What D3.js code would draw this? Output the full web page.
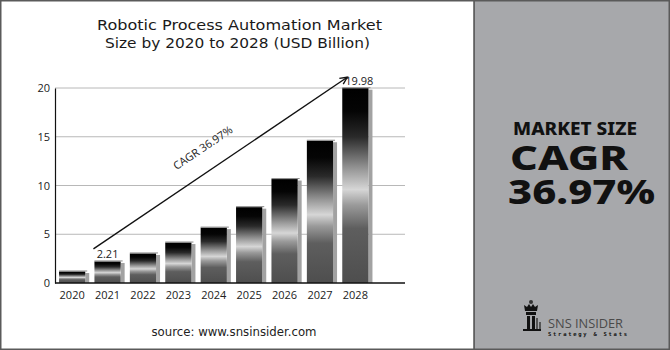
<!DOCTYPE html>
<html>
<head>
<meta charset="utf-8">
<script src="https://cdn.jsdelivr.net/npm/d3@7/dist/d3.min.js"></script>
<style>
  html, body { margin: 0; padding: 0; background: #fff; }
  svg { display: block; }
</style>
</head>
<body>
<svg id="chart" width="670" height="350"></svg>
<script>
// Robotic Process Automation market size, USD billion
const years = ["2020", "2021", "2022", "2023", "2024", "2025", "2026", "2027", "2028"];
const marketSize = [1.18, 2.21, 3.03, 4.15, 5.68, 7.78, 10.66, 14.59, 19.98];
const yTicks = [0, 5, 10, 15, 20];
const valueLabels = { "2021": "2.21", "2028": "19.98" };
const titleLines = ["Robotic Process Automation Market", "Size by 2020 to 2028 (USD Billion)"];
const cagrText = "CAGR 36.97%";

const svg = d3.select("#chart");
const W = 670, H = 350;
const panelX = 474;

// Background panels
svg.append("rect").attr("x", 0).attr("y", 0).attr("width", W).attr("height", H).attr("fill", "#fff");
svg.append("rect").attr("x", panelX).attr("y", 0).attr("width", W - panelX).attr("height", H).attr("fill", "#a7a8ab");
svg.append("line").attr("x1", panelX).attr("x2", panelX).attr("y1", 0).attr("y2", H)
  .attr("stroke", "#3a3a3a").attr("stroke-width", 1.3);
svg.append("rect").attr("x", 0.75).attr("y", 0.75).attr("width", W - 1.5).attr("height", H - 1.5)
  .attr("fill", "none").attr("stroke", "#5a5a5a").attr("stroke-width", 1.5);

// Title
const titleFont = "'DejaVu Sans', 'Noto Sans', sans-serif";
const titleWidths = [285, 265];
svg.append("g").selectAll("text").data(titleLines).join("text")
  .attr("x", (d, i) => i === 0 ? 239.5 : 237.5).attr("y", (d, i) => 30 + i * 17.5)
  .attr("text-anchor", "middle")
  .attr("font-family", titleFont).attr("font-size", 14.5).attr("fill", "#1a1a1a")
  .attr("textLength", (d, i) => titleWidths[i]).attr("lengthAdjust", "spacingAndGlyphs")
  .text(d => d);

// Scales
const x = d3.scaleBand().domain(years).range([55.5, 372]).paddingInner(0.26).paddingOuter(0.1);
const y = d3.scaleLinear().domain([0, 20]).range([283, 88]);
const plotLeft = 55, plotRight = 405;

// Gridlines
svg.append("g").selectAll("line").data(yTicks.filter(d => d > 0)).join("line")
  .attr("x1", plotLeft).attr("x2", plotRight)
  .attr("y1", d => y(d)).attr("y2", d => y(d))
  .attr("stroke", "#b8b8b8").attr("stroke-width", 1);

// Y axis
const yAxis = svg.append("g").attr("transform", `translate(${plotLeft},0)`)
  .call(d3.axisLeft(y).tickValues(yTicks).tickSize(0).tickPadding(5));
yAxis.select(".domain").attr("stroke", "#111").attr("stroke-width", 1.2);
yAxis.selectAll("text").attr("font-family", "'Open Sans', sans-serif").attr("font-size", 11).attr("fill", "#222");

// Metallic bar gradient
const defs = svg.append("defs");
const grad = defs.append("linearGradient").attr("id", "barGrad")
  .attr("x1", 0).attr("y1", 0).attr("x2", 0).attr("y2", 1);
[
  [0, "#000"], [0.12, "#050505"], [0.25, "#2a2a2a"], [0.42, "#9a9a9a"],
  [0.52, "#d6d6d6"], [0.60, "#9a9a9a"], [0.72, "#5e5e5e"], [1, "#4e4e4e"]
].forEach(([o, c]) => grad.append("stop").attr("offset", o).attr("stop-color", c));

const bars = svg.append("g");
const rows = years.map((yr, i) => ({ year: yr, value: marketSize[i] }));

// Side shading of each bar
bars.selectAll("rect.side").data(rows).join("rect").attr("class", "side")
  .attr("x", d => x(d.year) + x.bandwidth())
  .attr("y", d => y(d.value) + 1.5)
  .attr("width", 4)
  .attr("height", d => y(0) - y(d.value) - 1.5)
  .attr("fill", "#a2a2a2");

// Bar faces
bars.selectAll("rect.face").data(rows).join("rect").attr("class", "face")
  .attr("x", d => x(d.year))
  .attr("y", d => y(d.value))
  .attr("width", x.bandwidth())
  .attr("height", d => y(0) - y(d.value))
  .attr("fill", "url(#barGrad)");

// Top edge highlight
bars.selectAll("line.top").data(rows).join("line").attr("class", "top")
  .attr("x1", d => x(d.year)).attr("x2", d => x(d.year) + x.bandwidth() + 2)
  .attr("y1", d => y(d.value) - 0.5).attr("y2", d => y(d.value) - 0.5)
  .attr("stroke", "#8a8a8a").attr("stroke-width", 1);

// X axis baseline and labels
svg.append("line").attr("x1", plotLeft).attr("x2", plotRight).attr("y1", y(0)).attr("y2", y(0))
  .attr("stroke", "#111").attr("stroke-width", 1.4);
const xAxis = svg.append("g").attr("transform", `translate(0,${y(0)})`)
  .call(d3.axisBottom(x).tickSize(0).tickPadding(8));
xAxis.select(".domain").remove();
xAxis.selectAll("text").attr("font-family", "'Open Sans', sans-serif").attr("font-size", 11).attr("fill", "#222");

// Value labels
svg.append("g").selectAll("text").data(rows.filter(d => valueLabels[d.year])).join("text")
  .attr("x", d => x(d.year) + x.bandwidth() / 2 + (d.year === "2028" ? 4 : 0))
  .attr("y", d => y(d.value) - 3)
  .attr("text-anchor", "middle")
  .attr("font-family", "'Open Sans', sans-serif").attr("font-size", 11).attr("fill", "#222")
  .text(d => valueLabels[d.year]);

// CAGR trend arrow
const ax1 = x("2021") - 1, ay1 = y(3.5);
const ax2 = x("2028") + 5, ay2 = y(21.1);
svg.append("line").attr("x1", ax1).attr("y1", ay1).attr("x2", ax2).attr("y2", ay2)
  .attr("stroke", "#111").attr("stroke-width", 1.4);
const ang = Math.atan2(ay2 - ay1, ax2 - ax1);
const head = 8, spread = 0.45;
svg.append("path")
  .attr("d", `M${ax2 - head * Math.cos(ang - spread)},${ay2 - head * Math.sin(ang - spread)} L${ax2},${ay2} L${ax2 - head * Math.cos(ang + spread)},${ay2 - head * Math.sin(ang + spread)}`)
  .attr("fill", "none").attr("stroke", "#111").attr("stroke-width", 1.4);

const angDeg = ang * 180 / Math.PI;
svg.append("text")
  .attr("transform", `translate(205,151) rotate(${angDeg})`)
  .attr("text-anchor", "middle")
  .attr("font-family", "'Open Sans', sans-serif").attr("font-size", 11).attr("fill", "#222")
  .text(cagrText);

// Source
svg.append("text").attr("x", 234).attr("y", 336).attr("text-anchor", "middle")
  .attr("font-family", titleFont).attr("font-size", 12).attr("fill", "#222")
  .attr("textLength", 165).attr("lengthAdjust", "spacingAndGlyphs")
  .text("source: www.snsinsider.com");

// Right panel headline
const bold = "'Noto Sans', 'Open Sans', sans-serif";
svg.append("text").attr("x", 513).attr("y", 135)
  .attr("font-family", bold).attr("font-weight", 800).attr("font-size", 17)
  .attr("textLength", 124).attr("lengthAdjust", "spacingAndGlyphs")
  .attr("fill", "#111").text("MARKET SIZE");
svg.append("text").attr("x", 510).attr("y", 170)
  .attr("font-family", bold).attr("font-weight", 800).attr("font-size", 34)
  .attr("textLength", 118).attr("lengthAdjust", "spacingAndGlyphs")
  .attr("fill", "#111").text("CAGR");
svg.append("text").attr("x", 508).attr("y", 204)
  .attr("font-family", bold).attr("font-weight", 800).attr("font-size", 34)
  .attr("textLength", 147).attr("lengthAdjust", "spacingAndGlyphs")
  .attr("fill", "#111").text("36.97%");

// Logo
const logo = svg.append("g").attr("transform", "translate(523,300)");
logo.append("circle").attr("cx", 8).attr("cy", 2).attr("r", 2).attr("fill", "#333");
logo.append("path")
  .attr("d", "M1,5 L4,7 L6,4 L8,7 L10,4 L12,7 L15,5 L14,11 L2,11 Z M3,12 L13,12 L13,15 L3,15 Z M4,16 L7,16 L7,29 L4,29 Z M9,16 L12,16 L12,29 L9,29 Z M0,29 L18,29 L18,31 L0,31 Z")
  .attr("fill", "#111");
logo.append("path").attr("d", "M13,18 L15,18 L15,29 L13,29 Z M16,22 L18,22 L18,29 L16,29 Z").attr("fill", "#555");
svg.append("text").attr("x", 548).attr("y", 328)
  .attr("font-family", "'Open Sans', sans-serif").attr("font-size", 13).attr("fill", "#4a4a4a")
  .attr("textLength", 75).attr("lengthAdjust", "spacingAndGlyphs")
  .text("SNS INSIDER");
svg.append("text").attr("x", 548).attr("y", 336)
  .attr("font-family", "'DejaVu Sans Mono', monospace").attr("font-weight", 700).attr("font-size", 5.5).attr("fill", "#111")
  .attr("textLength", 79).attr("lengthAdjust", "spacing")
  .text("Strategy & Stats");
</script>
</body>
</html>
